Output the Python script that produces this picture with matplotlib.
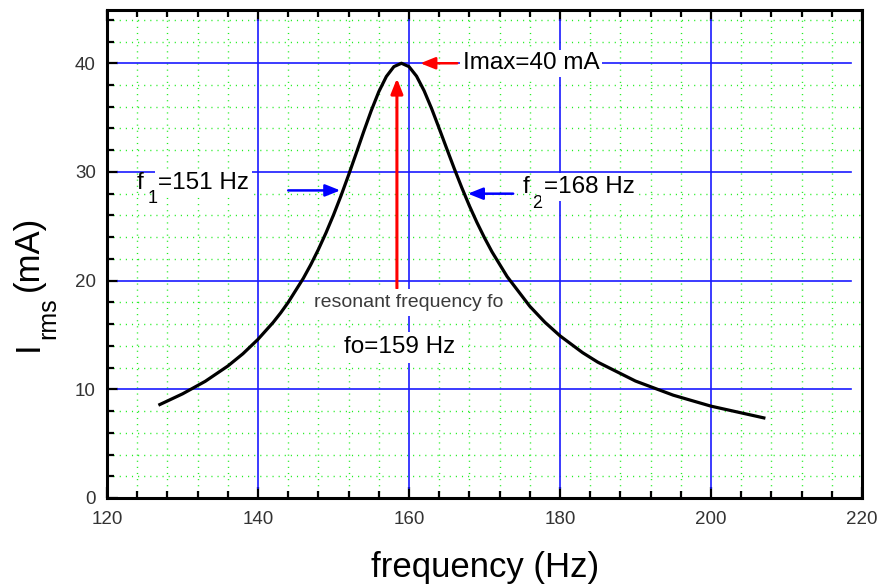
import matplotlib
matplotlib.use('Agg')
import matplotlib.pyplot as plt
from matplotlib.ticker import MultipleLocator

plt.rcParams['font.family'] = ['Liberation Sans', 'DejaVu Sans']
plt.rcParams['lines.scale_dashes'] = False

# ---- data ----
freq = [127, 130, 133, 136, 138, 140, 142, 143, 144, 146, 147, 148, 149, 150, 151, 152, 153, 154,
        155, 156, 157, 158, 159, 160, 161, 162, 163, 164, 165, 166, 167, 168, 169, 170, 171,
        173, 176, 178, 180, 183, 185, 190, 195, 200, 207]
irms = [8.6, 9.58, 10.73, 12.14, 13.27, 14.6, 16.15, 17.03, 18.0, 20.21, 21.48, 22.87, 24.39, 26.04, 27.82, 29.72, 31.70, 33.71,
        35.64, 37.38, 38.78, 39.69, 40.0, 39.69, 38.81, 37.47, 35.82, 34.0, 32.14, 30.3, 28.54, 26.88, 25.35, 23.94, 22.64,
        20.37, 17.64, 16.17, 14.92, 13.37, 12.5, 10.76, 9.46, 8.45, 7.37]

x_major = [120, 140, 160, 180, 200, 220]
y_major = [0, 10, 20, 30, 40]
x_minor = [124, 128, 132, 136, 144, 148, 152, 156, 164, 168, 172, 176,
           184, 188, 192, 196, 204, 208, 212, 216]
y_minor = [2, 4, 6, 8, 12, 14, 16, 18, 22, 24, 26, 28, 32, 34, 36, 38, 42, 44]

f0, imax, f1, f2 = 159, 40, 151, 168

W, H = 877, 585
fig = plt.figure(figsize=(W/100, H/100), dpi=100)
ax = fig.add_axes([107/W, 1-498/H, 755/W, 488/H])
ax.set_xlim(120, 220)
ax.set_ylim(0, 44.9)

# minor green dotted grid
dots = (0, (0.8, 3.6))
for xv in x_minor:
    ax.axvline(xv, color='#22ee22', lw=1.0, linestyle=dots, zorder=1)
for yv in y_minor:
    ax.axhline(yv, color='#22ee22', lw=1.0, linestyle=dots, zorder=1)
# major blue grid (stopping short of the frame)
gx = 11/755
gy = 10/488
for xv in x_major[1:-1]:
    ax.axvline(xv, ymin=gy, ymax=1-gy, color='#1a1aff', lw=1.2, zorder=2)
for yv in y_major[1:]:
    ax.axhline(yv, xmin=gx, xmax=1-gx, color='#1a1aff', lw=1.2, zorder=2)

ax.plot(freq, irms, color='black', lw=2.3, zorder=5)

ax.xaxis.set_major_locator(MultipleLocator(20))
ax.xaxis.set_minor_locator(MultipleLocator(4))
ax.yaxis.set_major_locator(MultipleLocator(10))
ax.yaxis.set_minor_locator(MultipleLocator(2))
ax.tick_params(which='both', direction='in', top=True, right=False,
               left=True, bottom=True, width=1.6, colors='black',
               labelcolor='#333333', labelsize=13.5)
ax.tick_params(which='major', length=8)
ax.tick_params(which='minor', length=5)
ax.tick_params(axis='x', pad=9)
ax.tick_params(axis='y', pad=8)
for s in ax.spines.values():
    s.set_linewidth(2.2)

# x label
ax.set_xlabel('frequency (Hz)', fontsize=25)
ax.xaxis.set_label_coords((485-107)/755, (498-577)/488)
ax.xaxis.label.set_va('baseline')

# y label built from pieces (large subscript, strongly lowered)
def fpx(x, y):
    return x / W, 1 - y / H
ylab_kw = dict(rotation=90, rotation_mode='anchor', ha='left', va='baseline')
fig.text(*fpx(38, 351), 'I', fontsize=25, **ylab_kw)
fig.text(*fpx(55, 339), 'rms', fontsize=18, **ylab_kw)
fig.text(*fpx(38, 291), '(mA)', fontsize=25, **ylab_kw)

box = dict(facecolor='white', edgecolor='none', pad=2.0)

def arrow(tip, tail, color, lw):
    ax.annotate('', xy=tip, xytext=tail,
                arrowprops=dict(arrowstyle='-|>,head_length=0.6,head_width=0.24',
                                color=color, lw=lw, mutation_scale=15,
                                shrinkA=0, shrinkB=0), zorder=6)

arrow((161.5, imax), (166.4, imax), 'red', 1.8)
arrow((158.4, 38.6), (158.4, 19.3), 'red', 2.2)
arrow((150.9, 28.3), (144.0, 28.3), '#0000ff', 1.8)
arrow((167.8, 28.0), (173.8, 28.0), '#0000ff', 1.8)

big = 17.5
ax.text(167.15, imax, f'Imax={imax} mA', fontsize=big, ha='left', va='center',
        bbox=box, zorder=7)
# f1 label
ax.text(123.97, 28.41, 'f', fontsize=big, ha='left', va='baseline', zorder=7)
ax.text(125.35, 27.12, '1', fontsize=13, ha='left', va='baseline', zorder=7)
ax.text(126.75, 28.41, f'={f1} Hz', fontsize=big, ha='left', va='baseline',
        bbox=box, zorder=7)
# f2 label
ax.text(175.1, 28.05, 'f', fontsize=big, ha='left', va='baseline', zorder=7)
ax.text(176.35, 26.67, '2', fontsize=13, ha='left', va='baseline', zorder=7)
ax.text(177.88, 28.05, f'={f2} Hz', fontsize=big, ha='left', va='baseline',
        bbox=box, zorder=7)

ax.text(159.9, 18.0, 'resonant frequency fo', fontsize=14, color='#3a3a3a',
        ha='center', va='center', bbox=dict(facecolor='white', edgecolor='none', pad=3.5),
        zorder=7)
ax.text(158.8, 13.85, f'fo={f0} Hz', fontsize=big, ha='center', va='center',
        bbox=dict(facecolor='white', edgecolor='none', pad=3.5), zorder=7)

fig.savefig('out.png', dpi=100)
